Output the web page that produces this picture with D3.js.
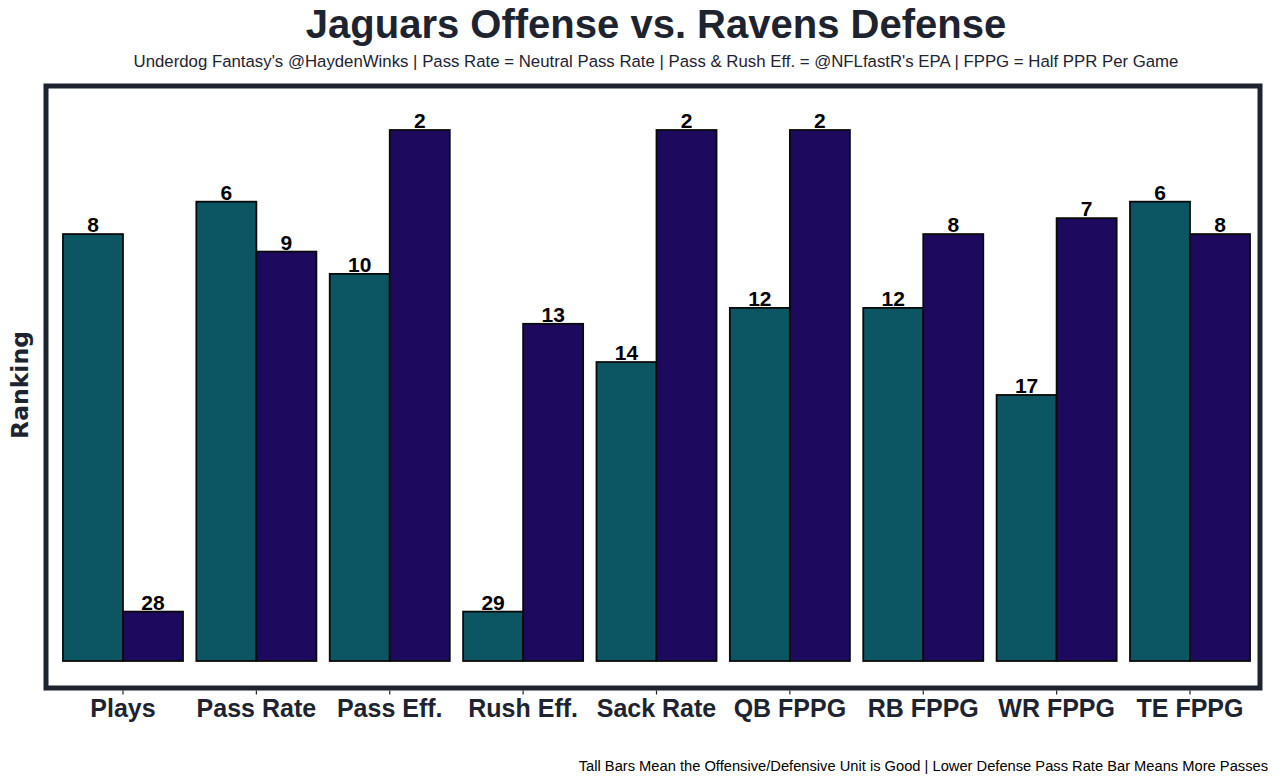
<!DOCTYPE html>
<html>
<head>
<meta charset="utf-8">
<script src="https://cdn.jsdelivr.net/npm/d3@7"></script>
<style>
  body { margin: 0; background: #fff; }
  svg { display: block; }
</style>
</head>
<body>
<svg id="chart" width="1280" height="783"></svg>
<script>
// categories and data
const categories = ["Plays", "Pass Rate", "Pass Eff.", "Rush Eff.", "Sack Rate",
                    "QB FPPG", "RB FPPG", "WR FPPG", "TE FPPG"];
// rank labels printed on top of the bars
const offenseRank = [8, 6, 10, 29, 14, 12, 12, 17, 6];
const defenseRank = [28, 9, 2, 13, 2, 2, 8, 7, 8];
// bar heights (relative score, 100 = tallest bar)
const offenseScore = [80.4, 86.5, 72.9, 9.3, 56.3, 66.5, 66.5, 50.1, 86.5];
const defenseScore = [9.3, 77.1, 100, 63.5, 100, 100, 80.4, 83.4, 80.4];

const svg = d3.select("#chart");
const teal = "#0c5562";
const purple = "#1d0a5e";
const ink = "#1e2330";

// frame of the plot panel
const frame = { x0: 46, y0: 86, x1: 1260, y1: 688 };

const x = d3.scaleBand()
    .domain(categories)
    .range([56.3, 1256.7])
    .paddingInner(0.1)
    .paddingOuter(0.05);

const sub = d3.scaleBand()
    .domain(["off", "def"])
    .range([0, x.bandwidth()]);

const y = d3.scaleLinear()
    .domain([0, 100])
    .range([661, 130]);

// title + subtitle
svg.append("text")
    .attr("x", 656).attr("y", 38)
    .attr("text-anchor", "middle")
    .attr("font-family", "Liberation Sans, Arial, sans-serif")
    .attr("font-weight", "bold")
    .attr("font-size", "40px")
    .attr("fill", ink)
    .text("Jaguars Offense vs. Ravens Defense");

svg.append("text")
    .attr("x", 656).attr("y", 67)
    .attr("text-anchor", "middle")
    .attr("font-family", "Liberation Sans, Arial, sans-serif")
    .attr("font-size", "16.8px")
    .attr("fill", ink)
    .text("Underdog Fantasy's @HaydenWinks | Pass Rate = Neutral Pass Rate | Pass & Rush Eff. = @NFLfastR's EPA | FPPG = Half PPR Per Game");

// bars
const rows = categories.map((c, i) => ({
    cat: c,
    bars: [
        { key: "off", score: offenseScore[i], rank: offenseRank[i], color: teal },
        { key: "def", score: defenseScore[i], rank: defenseRank[i], color: purple }
    ]
}));

const groups = svg.append("g").selectAll("g")
    .data(rows)
    .join("g")
    .attr("transform", d => `translate(${x(d.cat)},0)`);

groups.selectAll("rect")
    .data(d => d.bars)
    .join("rect")
    .attr("x", d => sub(d.key))
    .attr("y", d => y(d.score))
    .attr("width", sub.bandwidth())
    .attr("height", d => y(0) - y(d.score))
    .attr("fill", d => d.color)
    .attr("stroke", "#0a0a0a")
    .attr("stroke-width", 1.8);

groups.selectAll("text")
    .data(d => d.bars)
    .join("text")
    .attr("x", d => sub(d.key) + sub.bandwidth() / 2)
    .attr("y", d => y(d.score) - 2)
    .attr("text-anchor", "middle")
    .attr("font-family", "Liberation Sans, Arial, sans-serif")
    .attr("font-weight", "bold")
    .attr("font-size", "21px")
    .attr("fill", "#000")
    .text(d => d.rank);

// panel frame
svg.append("rect")
    .attr("x", frame.x0).attr("y", frame.y0)
    .attr("width", frame.x1 - frame.x0)
    .attr("height", frame.y1 - frame.y0)
    .attr("fill", "none")
    .attr("stroke", ink)
    .attr("stroke-width", 5);

// x axis: small ticks under the frame and bold labels
const xAxis = svg.append("g")
    .attr("transform", `translate(0,${frame.y1 + 2.5})`)
    .call(d3.axisBottom(x).tickSize(4).tickPadding(5));
xAxis.select(".domain").remove();
xAxis.selectAll("line").attr("stroke", ink).attr("stroke-width", 1.2);
xAxis.selectAll("text")
    .attr("font-family", "Liberation Sans, Arial, sans-serif")
    .attr("font-weight", "bold")
    .attr("font-size", "25px")
    .attr("fill", ink);

// y axis title
svg.append("text")
    .attr("transform", "translate(28,385) rotate(-90)")
    .attr("text-anchor", "middle")
    .attr("font-family", "DejaVu Sans, sans-serif")
    .attr("font-weight", "bold")
    .attr("font-size", "23.5px")
    .attr("fill", ink)
    .text("Ranking");

// caption
svg.append("text")
    .attr("x", 1268).attr("y", 771)
    .attr("text-anchor", "end")
    .attr("font-family", "Liberation Sans, Arial, sans-serif")
    .attr("font-size", "14.7px")
    .attr("fill", "#000")
    .text("Tall Bars Mean the Offensive/Defensive Unit is Good | Lower Defense Pass Rate Bar Means More Passes");
</script>
</body>
</html>
